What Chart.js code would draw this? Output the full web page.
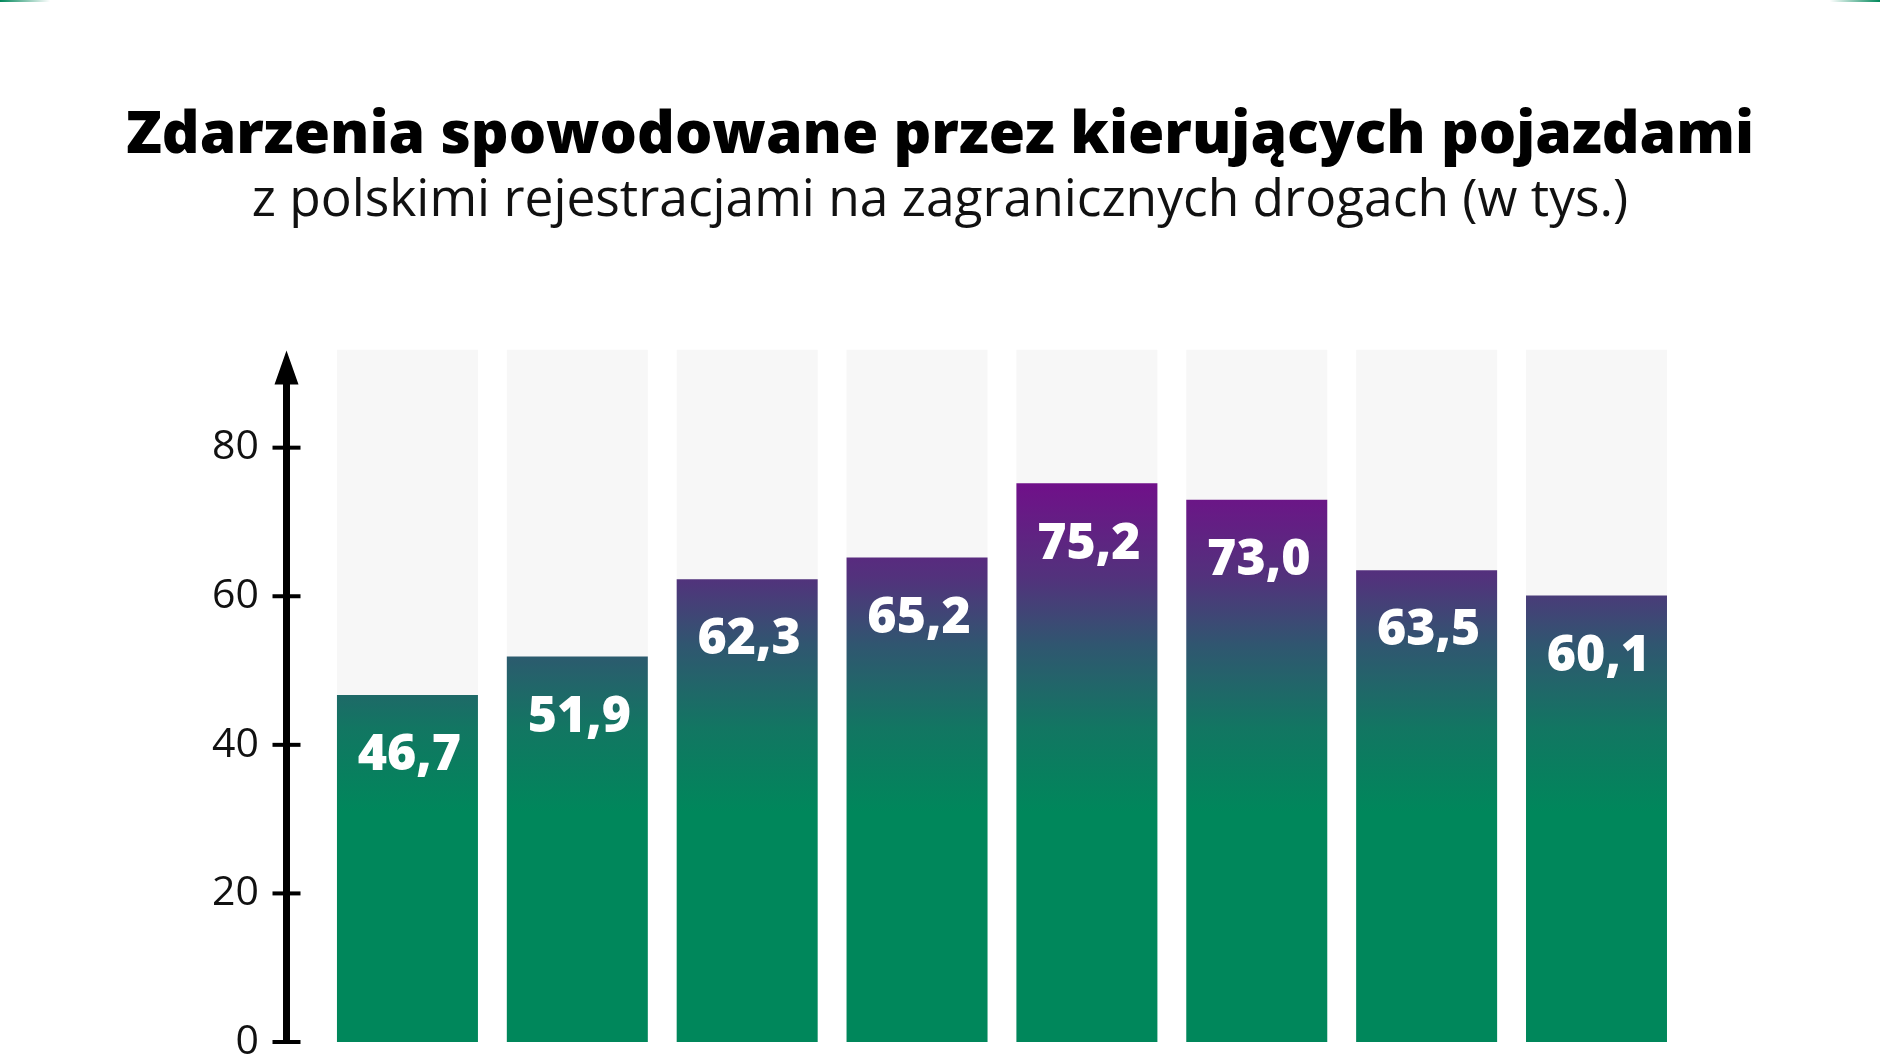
<!DOCTYPE html>
<html lang="pl">
<head>
<meta charset="utf-8">
<title>Zdarzenia spowodowane przez kierujących pojazdami</title>
<script src="https://cdn.jsdelivr.net/npm/chart.js@4.4.1/dist/chart.umd.min.js"></script>
<style>
    html, body { margin: 0; padding: 0; background: #fff; }
    #wrap { position: relative; width: 1880px; height: 1060px; overflow: hidden; }
    .corner { position: absolute; top: 0; width: 50px; height: 2px; }
    .corner.left { left: 0; background: linear-gradient(to right, #00875a, rgba(0,135,90,0)); }
    .corner.right { right: 0; background: linear-gradient(to left, #00875a, rgba(0,135,90,0)); }
</style>
</head>
<body>
<div id="wrap">
    <div class="corner left"></div>
    <div class="corner right"></div>
    <canvas id="barChart" width="1880" height="1060"></canvas>
</div>
<script>
// bar positions (years are cut off in the source picture)
var barIndex = [0, 1, 2, 3, 4, 5, 6, 7];
// events in thousands
var eventValues = [46.7, 51.9, 62.3, 65.2, 75.2, 73.0, 63.5, 60.1];
// light grey track behind every bar
var trackValues = [93.2, 93.2, 93.2, 93.2, 93.2, 93.2, 93.2, 93.2];
var yTicks = [0, 20, 40, 60, 80];

var titleText = 'Zdarzenia spowodowane przez kierujących pojazdami';
var subtitleText = 'z polskimi rejestracjami na zagranicznych drogach (w tys.)';

var green = '#00875b';

// gradient goes purple -> green, fixed to the value axis
function barGradient(context) {
    var chart = context.chart;
    if (!chart.chartArea) {
        return green;
    }
    var y = chart.scales.y;
    var top = y.getPixelForValue(76);
    var bottom = y.getPixelForValue(31);
    var g = chart.ctx.createLinearGradient(0, top, 0, bottom);
    g.addColorStop(0, 'rgb(114, 14, 138)');
    g.addColorStop(0.3, 'rgb(82, 50, 124)');
    g.addColorStop(0.5, 'rgb(48, 86, 112)');
    g.addColorStop(0.75, 'rgb(18, 118, 98)');
    g.addColorStop(1, green);
    return g;
}

function pts(values) {
    return values.map(function (v, i) { return { x: barIndex[i], y: v }; });
}

// the black y axis with arrow and crossing ticks
var arrowAxis = {
    id: 'arrowAxis',
    afterDatasetsDraw: function (chart) {
        var ctx = chart.ctx;
        var area = chart.chartArea;
        var y = chart.scales.y;
        var x0 = area.left + 0.5;
        var zero = y.getPixelForValue(0);
        ctx.save();
        ctx.strokeStyle = '#000';
        ctx.fillStyle = '#000';
        ctx.lineWidth = 7;
        ctx.beginPath();
        ctx.moveTo(x0, zero + 2);
        ctx.lineTo(x0, area.top + 30);
        ctx.stroke();
        ctx.beginPath();
        ctx.moveTo(x0, area.top + 1);
        ctx.lineTo(x0 - 12, area.top + 35);
        ctx.lineTo(x0 + 12, area.top + 35);
        ctx.closePath();
        ctx.fill();
        ctx.lineWidth = 4;
        yTicks.forEach(function (t) {
            var py = y.getPixelForValue(t);
            ctx.beginPath();
            ctx.moveTo(x0 - 14, py);
            ctx.lineTo(x0 + 14, py);
            ctx.stroke();
        });
        ctx.restore();
    }
};

// white numbers inside the bars
var barValues = {
    id: 'barValues',
    afterDatasetsDraw: function (chart) {
        var ctx = chart.ctx;
        var meta = chart.getDatasetMeta(1);
        ctx.save();
        ctx.fillStyle = '#fff';
        ctx.font = '800 50px "Open Sans"';
        ctx.textAlign = 'center';
        ctx.textBaseline = 'middle';
        meta.data.forEach(function (bar, i) {
            var txt = eventValues[i].toFixed(1).replace('.', ',');
            ctx.fillText(txt, bar.x + 2, bar.y + 61);
        });
        ctx.restore();
    }
};

var barChartCtx = document.getElementById('barChart');

new Chart(barChartCtx, {
    type: 'bar',
    data: {
        datasets: [{
            data: pts(trackValues),
            backgroundColor: '#f7f7f7',
            grouped: false,
            order: 1,
            barPercentage: 0.83,
            categoryPercentage: 1
        }, {
            data: pts(eventValues),
            backgroundColor: barGradient,
            grouped: false,
            order: 0,
            barPercentage: 0.83,
            categoryPercentage: 1
        }]
    },
    options: {
        responsive: false,
        animation: false,
        layout: {
            padding: { top: 0, left: 0, right: 0, bottom: 18 }
        },
        plugins: {
            legend: { display: false },
            tooltip: { enabled: false },
            title: {
                display: true,
                text: titleText,
                color: '#000',
                font: { family: 'Open Sans', size: 58.8, weight: '800', lineHeight: 1 },
                padding: { top: 107, bottom: 5 }
            },
            subtitle: {
                display: true,
                text: subtitleText,
                color: '#111',
                font: { family: 'Open Sans', size: 51.5, weight: 'normal' },
                padding: { top: 0, bottom: 117 }
            }
        },
        scales: {
            x: {
                type: 'linear',
                display: false,
                offset: false,
                min: -0.715,
                max: 8.669,
                afterBuildTicks: function (scale) {
                    scale.ticks = barIndex.map(function (v) { return { value: v }; });
                }
            },
            y: {
                min: 0,
                max: 93.2,
                grid: { display: false, drawTicks: false },
                border: { display: false },
                ticks: {
                    color: '#111',
                    padding: 27,
                    font: { family: 'Open Sans', size: 41 }
                },
                afterBuildTicks: function (scale) {
                    scale.ticks = yTicks.map(function (v) { return { value: v }; });
                },
                afterFit: function (scale) {
                    scale.width = 286;
                    scale.paddingTop = 0;
                    scale.paddingBottom = 0;
                }
            }
        }
    },
    plugins: [arrowAxis, barValues]
});
</script>
</body>
</html>
